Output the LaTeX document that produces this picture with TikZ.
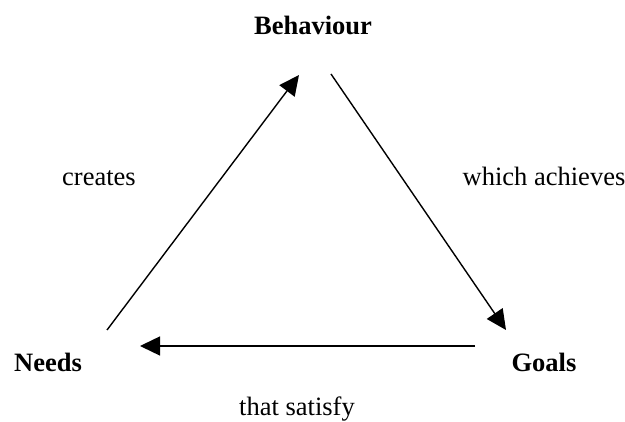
\documentclass[tikz,border=0pt]{standalone}
\usepackage{fontspec}
\setmainfont{Liberation Serif}
\usetikzlibrary{arrows.meta}

\begin{document}
\begin{tikzpicture}[x=1pt,y=-1pt,
	every node/.style={font=\fontsize{26.5}{30}\selectfont, anchor=base, inner sep=0pt},
	term/.style={font=\fontsize{26.5}{30}\selectfont\bfseries},
	link/.style={-{Triangle[length=20pt,width=19pt]}, line width=1.4pt}]
	\useasboundingbox (0,0) rectangle (625,422);
	\node [term] (beh) at (313,35) {Behaviour};
	\node [term] (needs) at (48,372) {Needs};
	\node [term] (goals) at (544,372) {Goals};
	\node (creates) at (99,186) {creates};
	\node (achieves) at (544,186) {which achieves};
	\node (satisfy) at (297,416) {that satisfy};

	\coordinate (needs-out) at (107,330);
	\coordinate (beh-in) at (299,75);
	\coordinate (beh-out) at (331,74);
	\coordinate (goals-in) at (506,330);
	\coordinate (goals-out) at (475,346);
	\coordinate (needs-in) at (140,346);

	\draw[link] (needs-out) -- (beh-in);
	\draw[link] (beh-out) -- (goals-in);
	\draw[link] (goals-out) -- (needs-in);
\end{tikzpicture}
\end{document}
